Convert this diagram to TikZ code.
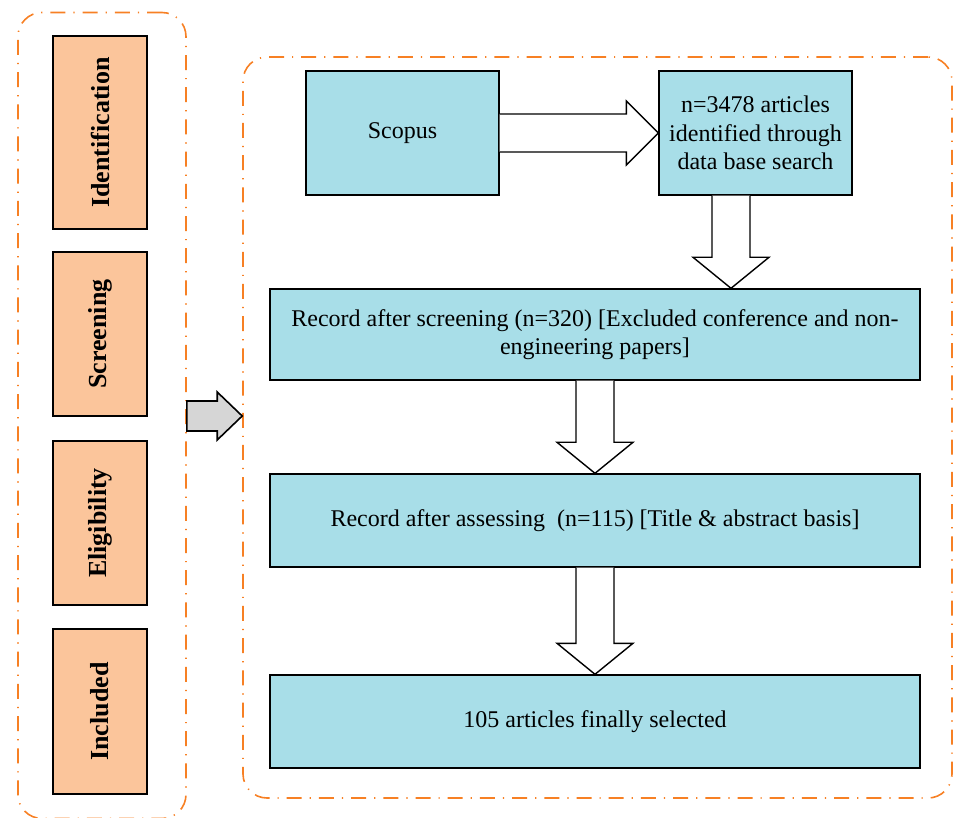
\documentclass[tikz,border=0pt]{standalone}
\usepackage{fontspec}
\setmainfont{Liberation Serif}
\usepackage{tikz}
\usetikzlibrary{calc,positioning,shapes}
\usepackage{xcolor}

\definecolor{boxblue}{RGB}{168,222,232}
\definecolor{peach}{RGB}{251,197,155}
\definecolor{dashorange}{RGB}{247,128,36}
\definecolor{arrowgray}{RGB}{214,214,214}

\tikzstyle{frame}=[draw=dashorange, line width=0.8pt, rounded corners=12pt,
  dash pattern=on 7.5pt off 4pt on 0.6pt off 4pt]
\tikzstyle{stage}=[draw, line width=0.7pt, fill=peach, rotate=90, inner sep=0pt,
  font=\fontsize{13}{15}\selectfont\bfseries]
\tikzstyle{record}=[draw, line width=0.7pt, fill=boxblue, inner sep=0pt, align=center,
  font=\fontsize{12}{14.25}\selectfont]
\tikzstyle{blockarrow}=[draw, line width=0.7pt, fill=white, line join=miter]

% block arrows: #1 = start, #2 = tip
\newcommand{\blockdown}[2]{%
  \draw[blockarrow] ($(#1)+(-19,0)$) -- ($(#2)+(-19,-31)$) -- ($(#2)+(-38,-31)$) -- (#2)
    -- ($(#2)+(38,-31)$) -- ($(#2)+(19,-31)$) -- ($(#1)+(19,0)$);}
\newcommand{\blockright}[2]{%
  \draw[blockarrow] ($(#1)+(0,-19)$) -- ($(#2)+(-32,-19)$) -- ($(#2)+(-32,-32)$) -- (#2)
    -- ($(#2)+(-32,32)$) -- ($(#2)+(-32,19)$) -- ($(#1)+(0,19)$);}

\begin{document}
\begin{tikzpicture}[x=0.5pt,y=-0.5pt]

\useasboundingbox (0,0) rectangle (954,818);

% frames
\node[frame, minimum width=84pt, minimum height=403pt] (leftframe) at (102,415.5) {};
\node[frame, minimum width=354.5pt, minimum height=370.5pt] (rightframe) at (597.5,427.5) {};

% stages
\node[stage, minimum width=96.5pt, minimum height=47pt] (ident) at (100,132.5) {Identification};
\node[stage, minimum width=82pt, minimum height=47pt] (screen) at (100,334) {Screening};
\node[stage, minimum width=82pt, minimum height=47pt] (elig) at (100,523) {Eligibility};
\node[stage, minimum width=82.5pt, minimum height=47pt] (incl) at (100,711.5) {Included};

% gray arrow
\coordinate (gstart) at (100,416 -| leftframe.east);
\coordinate (gtip) at (gstart -| rightframe.west);
\draw[line width=0.8pt, fill=arrowgray, line join=miter] ($(gstart)+(0,-15)$) -- ($(gtip)+(-25,-15)$)
  -- ($(gtip)+(-25,-24)$) -- (gtip) -- ($(gtip)+(-25,24)$) -- ($(gtip)+(-25,15)$) -- ($(gstart)+(0,15)$) -- cycle;

% records
\node[record, minimum width=96.5pt, minimum height=62pt] (scopus) at (402.5,133) {Scopus};
\node[record, minimum width=96.5pt, minimum height=62pt] (search) at (755.5,133)
  {n=3478 articles\\identified through\\data base search};
\node[record, minimum width=325pt, minimum height=45.5pt] (screened) at (595,334.5)
  {Record after screening (n=320) [Excluded conference and non-\\engineering papers]};
\node[record, minimum width=325pt, minimum height=46.5pt] (assessed) at (595,520.5)
  {Record after assessing\ \ (n=115) [Title \& abstract basis]};
\node[record, minimum width=325pt, minimum height=46.5pt] (selected) at (595,721.5)
  {105 articles finally selected};

% arrows
\blockright{scopus.east}{search.west}
\coordinate (a1) at ($(search.south)+(-24.5,0)$);
\blockdown{a1}{a1 |- screened.north}
\blockdown{screened.south}{assessed.north}
\blockdown{assessed.south}{selected.north}

\end{tikzpicture}
\end{document}
